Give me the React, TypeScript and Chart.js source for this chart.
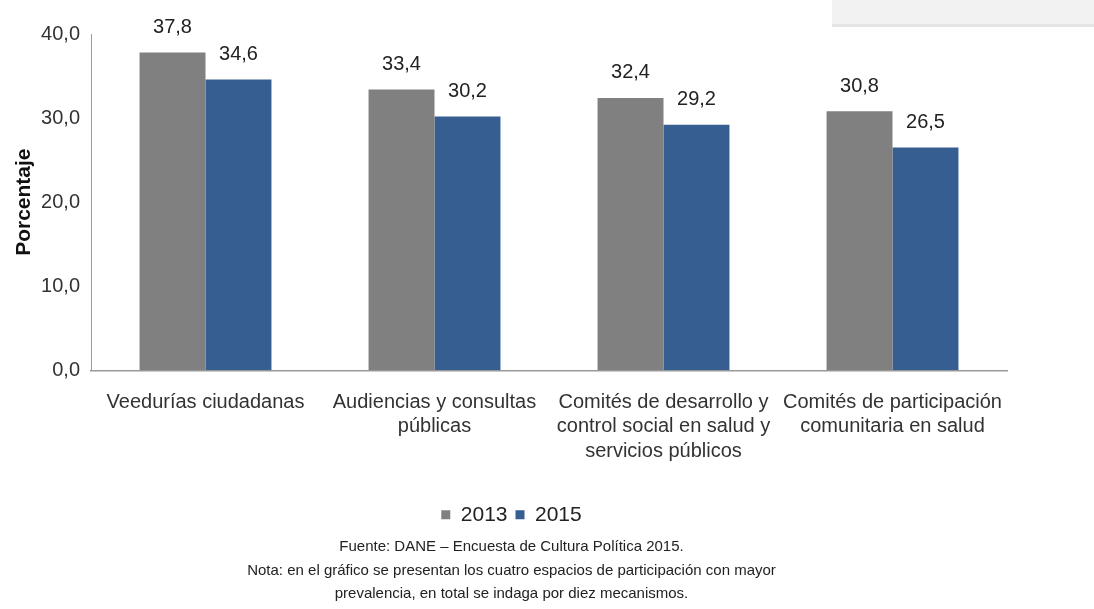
import React, { useEffect, useRef } from "react";
import { Chart, registerables } from "chart.js";

Chart.register(...registerables);

const categories: string[][] = [
  ["Veedurías ciudadanas"],
  ["Audiencias y consultas", "públicas"],
  ["Comités de desarrollo y", "control social en salud y", "servicios públicos"],
  ["Comités de participación", "comunitaria en salud"],
];
const seriesNames = ["2013", "2015"];
const values2013 = [37.8, 33.4, 32.4, 30.8];
const values2015 = [34.6, 30.2, 29.2, 26.5];
const yTicks = [0, 10, 20, 30, 40];
const footerLines = [
  "Fuente: DANE – Encuesta de Cultura Política 2015.",
  "Nota: en el gráfico se presentan los cuatro espacios de participación con mayor",
  "prevalencia, en total se indaga por diez mecanismos.",
];

const FONT = "'Liberation Sans', Arial, sans-serif";

const fmt = (v: number) => v.toFixed(1).replace(".", ",");

const valueLabels = {
  id: "valueLabels",
  afterDatasetsDraw(chart: any) {
    const ctx = chart.ctx;
    ctx.save();
    ctx.font = `20px ${FONT}`;
    ctx.fillStyle = "#222";
    ctx.textAlign = "center";
    ctx.textBaseline = "bottom";
    chart.data.datasets.forEach((ds: any, i: number) => {
      const meta = chart.getDatasetMeta(i);
      meta.data.forEach((el: any, j: number) => {
        ctx.fillText(fmt(ds.data[j]), el.x, el.y - 15);
      });
    });
    ctx.restore();
  },
};

export default function App() {
  const ref = useRef<HTMLCanvasElement | null>(null);
  useEffect(() => {
    document.body.style.margin = "0";
    const chart = new Chart(ref.current!, {
      type: "bar",
      data: {
        labels: categories,
        datasets: [
          { label: seriesNames[0], data: values2013, backgroundColor: "#808080", borderWidth: 0, categoryPercentage: 0.576, barPercentage: 1 },
          { label: seriesNames[1], data: values2015, backgroundColor: "#365e90", borderWidth: 0, categoryPercentage: 0.576, barPercentage: 1 },
        ],
      },
      options: {
        animation: false,
        responsive: false,
        layout: { padding: { top: 34, right: 87, left: 16, bottom: 0 } },
        scales: {
          x: {
            grid: { display: false, drawTicks: false },
            border: { color: "#9a9a9a", width: 1.5 },
            ticks: { color: "#333", font: { family: FONT, size: 20, lineHeight: 1.22 }, padding: 20, maxRotation: 0, autoSkip: false },
            afterFit: (s: any) => { s.height = 126; },
          } as any,
          y: {
            min: 0,
            max: 40,
            afterBuildTicks: (s: any) => { s.ticks = yTicks.map((v) => ({ value: v })); },
            grid: { display: false, drawTicks: true, tickLength: 6, color: "#9a9a9a" },
            border: { color: "#9a9a9a", width: 1 },
            ticks: { color: "#333", font: { family: FONT, size: 20 }, padding: 5, callback: (v: any) => fmt(Number(v)) },
            title: { display: true, text: "Porcentaje", color: "#111", font: { family: FONT, size: 21, weight: "bold" }, padding: { top: -4, bottom: 4 } },
            afterFit: (s: any) => { s.width = 75; },
          } as any,
        },
        plugins: {
          legend: {
            position: "bottom",
            labels: { boxWidth: 9, boxHeight: 9, color: "#222", font: { family: FONT, size: 21 }, padding: 8 },
          },
          title: {
            display: true,
            position: "bottom",
            text: footerLines,
            color: "#222",
            font: { family: FONT, size: 15, weight: "normal", lineHeight: 1.57 },
            padding: { top: 0, bottom: 3 },
          },
          tooltip: { enabled: false },
        },
      },
      plugins: [valueLabels],
    });
    return () => chart.destroy();
  }, []);
  return (
    <div style={{ position: "relative", width: 1094, height: 609, background: "#fff" }}>
      <canvas ref={ref} width={1094} height={609} />
      <div style={{ position: "absolute", left: 832, top: 0, width: 262, height: 24, background: "#f2f2f2", borderBottom: "3px solid #e4e4e4" }} />
    </div>
  );
}
